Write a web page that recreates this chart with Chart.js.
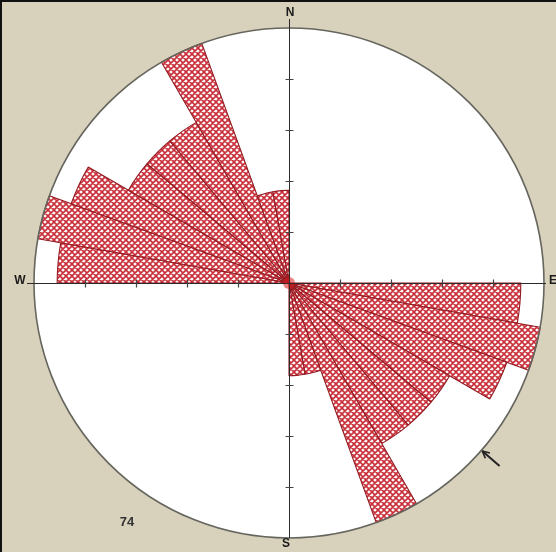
<!DOCTYPE html>
<html>
<head>
<meta charset="utf-8">
<script src="https://cdn.jsdelivr.net/npm/chart.js@4.4.1/dist/chart.umd.min.js"></script>
<style>
  html, body { margin: 0; padding: 0; background: #d8d1bb; }
  canvas { display: block; }
</style>
</head>
<body>
<canvas id="rose" width="556" height="552"></canvas>
<script>
// 10 degree classes, clockwise from north (axial data, each class mirrored)
const sectors = [
  '000-010', '010-020', '020-030', '030-040', '040-050', '050-060',
  '060-070', '070-080', '080-090', '090-100', '100-110', '110-120',
  '120-130', '130-140', '140-150', '150-160', '160-170', '170-180',
  '180-190', '190-200', '200-210', '210-220', '220-230', '230-240',
  '240-250', '250-260', '260-270', '270-280', '280-290', '290-300',
  '300-310', '310-320', '320-330', '330-340', '340-350', '350-360'
];
const counts = [
  0, 0, 0, 0, 0, 0, 0, 0, 0,
  10, 11, 10, 8, 8, 8, 11, 4, 4,
  0, 0, 0, 0, 0, 0, 0, 0, 0,
  10, 11, 10, 8, 8, 8, 11, 4, 4
];
const rMax = 11;
const axisTicks = [2.2, 4.4, 6.6, 8.8];
const sampleSize = 74;
const arrowBearing = 131;

// red cross-hatch fill
function crossHatch() {
  const c = document.createElement('canvas');
  c.width = 6; c.height = 6;
  const g = c.getContext('2d');
  g.fillStyle = '#fdf7f7';
  g.fillRect(0, 0, 6, 6);
  g.strokeStyle = '#c92f3a';
  g.lineWidth = 1.6;
  g.beginPath();
  g.moveTo(-1, -1); g.lineTo(7, 7);
  g.moveTo(7, -1); g.lineTo(-1, 7);
  g.moveTo(-1, 5); g.lineTo(1, 7);
  g.moveTo(5, -1); g.lineTo(7, 1);
  g.moveTo(-1, 1); g.lineTo(1, -1);
  g.moveTo(5, 7); g.lineTo(7, 5);
  g.stroke();
  return g.createPattern(c, 'repeat');
}

const roseFrame = {
  id: 'roseFrame',
  beforeDraw(chart) {
    const ctx = chart.ctx;
    const r = chart.scales.r;
    ctx.save();
    ctx.fillStyle = '#d8d1bb';
    ctx.fillRect(0, 0, chart.width, chart.height);
    ctx.fillStyle = '#111';
    ctx.fillRect(0, 0, chart.width, 2);
    ctx.fillRect(0, 0, 2, chart.height);
    ctx.beginPath();
    ctx.arc(r.xCenter, r.yCenter, r.drawingArea, 0, Math.PI * 2);
    ctx.fillStyle = '#ffffff';
    ctx.fill();
    ctx.restore();
  },
  afterDatasetsDraw(chart) {
    const ctx = chart.ctx;
    const r = chart.scales.r;
    const x0 = r.xCenter, y0 = r.yCenter, R = r.drawingArea;
    ctx.save();

    // red knot where all sector edges meet
    ctx.beginPath();
    ctx.arc(x0, y0, 6, 0, Math.PI * 2);
    ctx.fillStyle = 'rgba(220, 30, 30, 0.55)';
    ctx.fill();

    // outer circle
    ctx.beginPath();
    ctx.arc(x0, y0, R, 0, Math.PI * 2);
    ctx.strokeStyle = '#66665f';
    ctx.lineWidth = 1.6;
    ctx.stroke();

    // N-S and W-E axes
    ctx.strokeStyle = '#2a2a2a';
    ctx.lineWidth = 1;
    ctx.beginPath();
    ctx.moveTo(x0 + 0.5, y0 - R - 9);
    ctx.lineTo(x0 + 0.5, y0 + R);
    ctx.moveTo(x0 - R - 7, y0 + 0.5);
    ctx.lineTo(x0 + R + 2, y0 + 0.5);
    ctx.stroke();

    // ticks along the axes
    ctx.strokeStyle = '#444';
    ctx.lineWidth = 1.2;
    ctx.beginPath();
    axisTicks.forEach(v => {
      const d = r.getDistanceFromCenterForValue(v);
      ctx.moveTo(x0 - 3.5, y0 - d + 0.5); ctx.lineTo(x0 + 4.5, y0 - d + 0.5);
      ctx.moveTo(x0 - 3.5, y0 + d + 0.5); ctx.lineTo(x0 + 4.5, y0 + d + 0.5);
      ctx.moveTo(x0 - d + 0.5, y0 - 3.5); ctx.lineTo(x0 - d + 0.5, y0 + 4.5);
      ctx.moveTo(x0 + d + 0.5, y0 - 3.5); ctx.lineTo(x0 + d + 0.5, y0 + 4.5);
    });
    ctx.stroke();

    // compass letters
    ctx.fillStyle = '#1a1a1a';
    ctx.font = 'bold 12px "Liberation Sans", Arial, sans-serif';
    ctx.textBaseline = 'middle';
    ctx.textAlign = 'center';
    ctx.fillText('N', x0 + 1, y0 - R - 15);
    ctx.fillText('S', x0 - 3, y0 + R + 6);
    ctx.fillText('W', x0 - R - 14, y0 - 2);
    ctx.textAlign = 'left';
    ctx.fillText('E', x0 + R + 5, y0 - 2);

    // number of measurements
    ctx.fillStyle = '#333';
    ctx.font = 'bold 13px "Liberation Sans", Arial, sans-serif';
    ctx.textAlign = 'center';
    ctx.fillText(String(sampleSize), x0 - 162, y0 + 239);

    // arrow pointing at the rim
    const a = (arrowBearing - 90) * Math.PI / 180;
    const tipX = x0 + Math.cos(a) * (R + 1), tipY = y0 + Math.sin(a) * (R + 1);
    const tailX = x0 + Math.cos(a) * (R + 24), tailY = y0 + Math.sin(a) * (R + 24);
    ctx.strokeStyle = '#222';
    ctx.lineWidth = 2;
    ctx.beginPath();
    ctx.moveTo(tailX, tailY);
    ctx.lineTo(tipX, tipY);
    ctx.stroke();
    ctx.beginPath();
    ctx.moveTo(tipX, tipY);
    ctx.lineTo(tipX + Math.cos(a + 0.45) * 8, tipY + Math.sin(a + 0.45) * 8);
    ctx.moveTo(tipX, tipY);
    ctx.lineTo(tipX + Math.cos(a - 0.45) * 8, tipY + Math.sin(a - 0.45) * 8);
    ctx.lineWidth = 1.6;
    ctx.stroke();

    ctx.restore();
  }
};

const rose = new Chart(document.getElementById('rose'), {
  type: 'polarArea',
  data: {
    labels: sectors,
    datasets: [{
      label: 'Strike',
      data: counts,
      backgroundColor: crossHatch(),
      borderColor: '#931b22',
      borderWidth: 1.1
    }]
  },
  options: {
    responsive: false,
    animation: false,
    layout: { padding: { left: 34, right: 12, top: 28, bottom: 14 } },
    plugins: {
      legend: { display: false },
      tooltip: { enabled: false }
    },
    scales: {
      r: {
        display: false,
        min: 0,
        max: rMax,
        startAngle: 0
      }
    }
  },
  plugins: [roseFrame]
});
</script>
</body>
</html>
